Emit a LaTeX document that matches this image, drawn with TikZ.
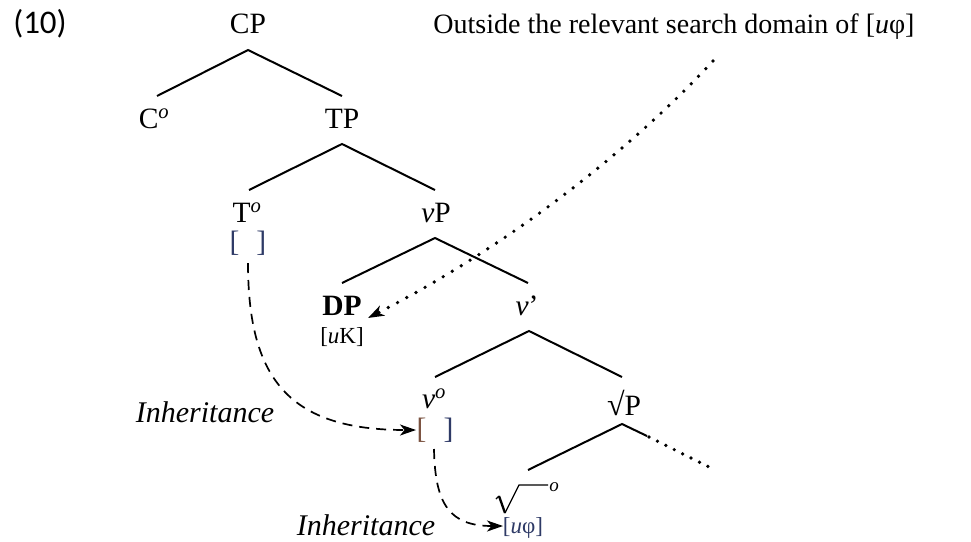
\documentclass[tikz,border=0pt]{standalone}
\usepackage{fontspec}
\setmainfont{Liberation Serif}
\newfontfamily\numfont{Carlito}
\usetikzlibrary{arrows.meta}
\definecolor{brk}{HTML}{2E3A66}
\definecolor{brkwarm}{HTML}{7A5240}
\tikzset{
  lab/.style={anchor=base, inner sep=0pt, font=\fontsize{29.5}{33}\selectfont},
  cmt/.style={anchor=base, inner sep=0pt, font=\fontsize{28}{32}\selectfont},
  sm/.style={anchor=base, inner sep=0pt, font=\fontsize{23}{27}\selectfont},
  inh/.style={anchor=base, inner sep=0pt, font=\fontsize{30}{34}\selectfont\itshape},
  branch/.style={line width=2pt},
  tipshape/.style={-{Stealth[length=16pt,width=11pt,inset=4.5pt]}},
  inherit/.style={line width=1.7pt, dash pattern=on 10pt off 7pt, tipshape},
  dots/.style={line width=3.7pt, line cap=round, dash pattern=on 0pt off 10.5pt},
}
\begin{document}
\begin{tikzpicture}[x=1pt,y=-1pt]
\useasboundingbox (0,0) rectangle (971,541);

% example number and comment
\node[anchor=base, inner sep=0pt, font=\numfont\fontsize{33}{37}\selectfont] (num) at (40,33) {(10)};
\node[cmt] (note) at (674,33) {Outside the relevant search domain of [\textit{u}φ]};

% tree labels
\node[lab] (CP) at (248,33) {CP};
\node[lab] (C) at (154,128) {C\textsuperscript{\textit{o}}};
\node[lab] (TP) at (342,128) {TP};
\node[lab] (T) at (247,222) {T\textsuperscript{\textit{o}}};
\node[lab] (Tb) at (248,251) {\textcolor{brk}{[\hspace{17pt}]}};
\node[lab] (vP) at (436,222) {\textit{v}P};
\node[lab] (DP) at (342,315) {\textbf{DP}};
\node[sm] (uK) at (342,343) {[\textit{u}K]};
\node[lab] (vbar) at (527,315) {\textit{v}’};
\node[lab] (vo) at (434,408) {\textit{v}\textsuperscript{\textit{o}}};
\node[lab] (vb) at (435,438) {\textcolor{brkwarm}{[}\hspace{17pt}\textcolor{brk}{]}};
\node[lab] (rootP) at (624,415) {{\fontsize{32}{34}\selectfont √}P};
\node[sm] (uphi) at (523,533) {\textcolor{brk}{[\textit{u}φ]}};
\node[inh] (inh1) at (205,422) {Inheritance};
\node[inh] (inh2) at (366,535) {Inheritance};

% root head: radical sign with its bar and superscript
\draw[line width=1.2pt] (496,499) -- (499,496);
\draw[line width=2.3pt] (499,496) -- (505,513);
\draw[line width=1.3pt] (505,513) -- (519,485) -- (548,485);
\node[anchor=base, inner sep=0pt, font=\fontsize{19}{21}\selectfont\itshape] (rooto) at (554,491) {o};

% branch points and branch ends
\coordinate (aCP) at (248,50);  \coordinate (eC) at (157,96);  \coordinate (eTP) at (342,96);
\coordinate (aTP) at (342,144); \coordinate (eT) at (249,190); \coordinate (evP) at (435,190);
\coordinate (avP) at (435,238); \coordinate (eDP) at (342,283); \coordinate (evbar) at (528,283);
\coordinate (avbar) at (529,331); \coordinate (evo) at (435,377); \coordinate (erootP) at (622,377);
\coordinate (arootP) at (622,424); \coordinate (eroot) at (528,470);
\coordinate (dotA) at (647,436); \coordinate (dotB) at (715,470);

\draw[branch] (eC) -- (aCP) -- (eTP);
\draw[branch] (eT) -- (aTP) -- (evP);
\draw[branch] (eDP) -- (avP) -- (evbar);
\draw[branch] (evo) -- (avbar) -- (erootP);
\draw[branch] (eroot) -- (arootP) -- (dotA);
\draw[dots, dash pattern=on 0pt off 9.4pt] (dotA) ++(2,1) -- (dotB);

% inheritance arrows
\coordinate (s1) at (248,263); \coordinate (t1) at (416,430);
\draw[inherit] (s1) .. controls (248,380) and (290,430) .. (t1);
\coordinate (s2) at (434,449); \coordinate (t2) at (503,526);
\draw[inherit] (s2) .. controls (435,505) and (450,526) .. (t2);

% dotted arrow from the comment to DP
\coordinate (dS) at (713,61); \coordinate (dT) at (368,318);
\draw[dots, tipshape] (dS) .. controls (640,140) and (520,240) .. (dT);
\end{tikzpicture}
\end{document}
